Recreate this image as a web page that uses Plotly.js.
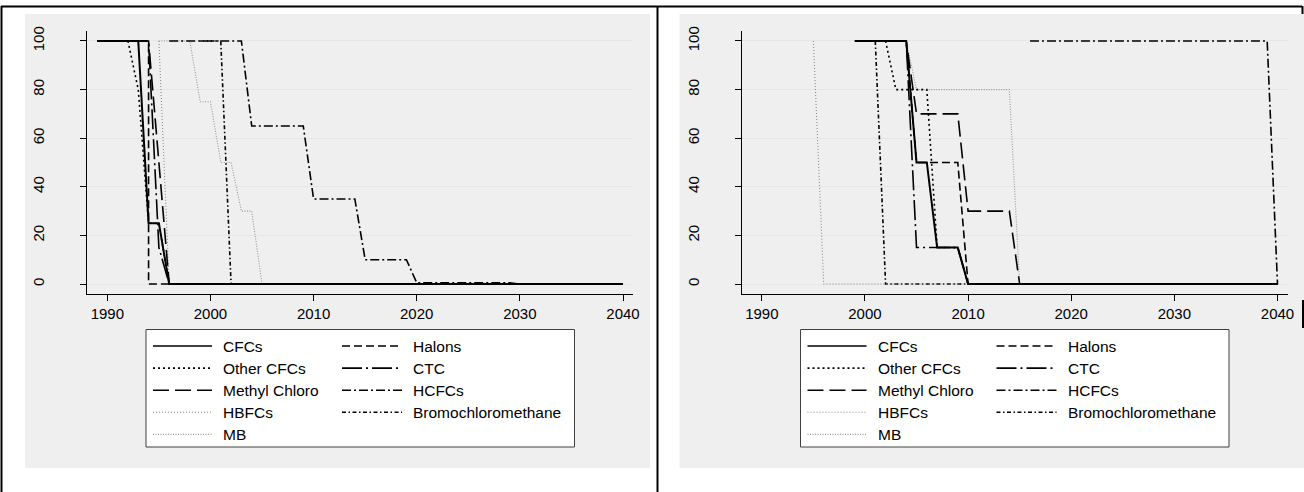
<!DOCTYPE html>
<html><head><meta charset="utf-8">
<script src="https://cdn.plot.ly/plotly-3.0.1.min.js"></script>
<style>html,body{margin:0;padding:0;background:#fff}#chart{width:1304px;height:492px}</style>
</head><body><div id="chart"></div>
<script>
// ---------- DATA ----------
const seriesNames = ["CFCs","Halons","Other CFCs","CTC","Methyl Chloro","HCFCs","HBFCs","Bromochloromethane","MB"];
const xTickVals = [1990,2000,2010,2020,2030,2040];
const xTickText = ["1990","2000","2010","2020","2030","2040"];
const yTickVals = [0,20,40,60,80,100];
const yTickText = ["0","20","40","60","80","100"];

// Left panel
const L_CFCs_x = [1989,1993,1994,1995,1996,2040];
const L_CFCs_y = [100,100,25,25,0,0];
const L_Halons_x = [1992,1994,1994,2040];
const L_Halons_y = [100,100,0,0];
const L_OtherCFCs_x = [1992,1993,1994,1995,1996,2040];
const L_OtherCFCs_y = [100,80,25,25,0,0];
const L_CTC_x = [1989,1994,1995,1996,2040];
const L_CTC_y = [100,100,15,0,0];
const L_MethylChloro_x = [1993,1994,1995,1996,2040];
const L_MethylChloro_y = [100,100,50,0,0];
const L_HCFCs_x = [1996,2003,2004,2009,2010,2014,2015,2019,2020,2029,2030,2040];
const L_HCFCs_y = [100,100,65,65,35,35,10,10,0.5,0.5,0,0];
const L_HBFCs_x = [1995,1996,2040];
const L_HBFCs_y = [100,0,0];
const L_BCM_x = [1999,2001,2002,2040];
const L_BCM_y = [100,100,0,0];
const L_MB_x = [1995,1998,1999,2000,2001,2002,2003,2004,2005,2040];
const L_MB_y = [100,100,75,75,50,50,30,30,0,0];

// Right panel
const R_CFCs_x = [1999,2004,2005,2006,2007,2009,2010,2040];
const R_CFCs_y = [100,100,50,50,15,15,0,0];
const R_Halons_x = [2002,2004,2005,2009,2010,2040];
const R_Halons_y = [100,100,50,50,0,0];
const R_OtherCFCs_x = [2002,2003,2006,2007,2009,2010,2040];
const R_OtherCFCs_y = [100,80,80,15,15,0,0];
const R_CTC_x = [2002,2004,2005,2009,2010,2040];
const R_CTC_y = [100,100,15,15,0,0];
const R_MethylChloro_x = [2003,2004,2005,2009,2010,2014,2015,2040];
const R_MethylChloro_y = [100,100,70,70,30,30,0,0];
const R_HCFCs_x = [2016,2039,2040];
const R_HCFCs_y = [100,100,0];
const R_HBFCs_x = [1995,1996,2040];
const R_HBFCs_y = [100,0,0];
const R_BCM_x = [2001,2002,2040];
const R_BCM_y = [100,0,0];
const R_MB_x = [2002,2004,2005,2014,2015,2040];
const R_MB_y = [100,100,80,80,0,0];

// ---------- STYLE ----------
const W = 1304, H = 492;
const FONT = "Liberation Sans, Arial, Helvetica, sans-serif";
const lineStyles = [
  {color:"#000", width:2.0, dash:"solid"},
  {color:"#000", width:1.6, dash:"8px,4px"},
  {color:"#000", width:1.6, dash:"2px,3px"},
  {color:"#000", width:1.6, dash:"20px,4px,2px,4px"},
  {color:"#000", width:1.6, dash:"16px,6px"},
  {color:"#000", width:1.6, dash:"9px,3px,2px,3px"},
  {color:"#8a8a8a", width:1.1, dash:"1px,2px"},
  {color:"#000", width:1.6, dash:"4px,2.5px,1.5px,2.5px"},
  {color:"#999", width:1.1, dash:"1px,1.5px"}
];

const leftData = [
  [L_CFCs_x,L_CFCs_y],[L_Halons_x,L_Halons_y],[L_OtherCFCs_x,L_OtherCFCs_y],[L_CTC_x,L_CTC_y],
  [L_MethylChloro_x,L_MethylChloro_y],[L_HCFCs_x,L_HCFCs_y],[L_HBFCs_x,L_HBFCs_y],[L_BCM_x,L_BCM_y],[L_MB_x,L_MB_y]
];
const rightData = [
  [R_CFCs_x,R_CFCs_y],[R_Halons_x,R_Halons_y],[R_OtherCFCs_x,R_OtherCFCs_y],[R_CTC_x,R_CTC_y],
  [R_MethylChloro_x,R_MethylChloro_y],[R_HCFCs_x,R_HCFCs_y],[R_HBFCs_x,R_HBFCs_y],[R_BCM_x,R_BCM_y],[R_MB_x,R_MB_y]
];

const traces = [];
function addTraces(data, xa, ya) {
  for (let i = data.length - 1; i >= 0; i--) {
    const s = lineStyles[i];
    traces.push({type:"scatter", mode:"lines", x:data[i][0], y:data[i][1], name:seriesNames[i],
      xaxis:xa, yaxis:ya, showlegend:false, hoverinfo:"skip",
      line:{color:s.color, width:s.width, dash:s.dash}});
  }
}
addTraces(leftData, "x", "y");
addTraces(rightData, "x2", "y2");

const px = v => v / W;
const py = v => 1 - v / H;

const PANEL_DX = 654.5;
const xRange = [1988.03, 2040.97];
const yRange = [-4.11, 104.11];

function xAxis(x0, anchor) {
  return {domain:[px(x0), px(x0 + 546)], range:xRange, anchor:anchor,
    tickmode:"array", tickvals:xTickVals, ticktext:xTickText,
    ticks:"outside", ticklen:6, tickwidth:1, tickcolor:"#000",
    showline:true, linecolor:"#000", linewidth:1, showgrid:false, zeroline:false,
    tickfont:{family:FONT, size:15, color:"#000"}, fixedrange:true};
}
function yAxis(anchor) {
  return {domain:[py(294), py(31)], range:yRange, anchor:anchor,
    tickmode:"array", tickvals:yTickVals, ticktext:yTickText, tickangle:-90,
    ticks:"outside", ticklen:6, tickwidth:1, tickcolor:"#000",
    showline:true, linecolor:"#000", linewidth:1,
    showgrid:true, gridcolor:"#e6e6e6", gridwidth:1, zeroline:false,
    ticklabelstandoff:30,
    tickfont:{family:FONT, size:15, color:"#000"}, fixedrange:true};
}

const shapes = [];
const annotations = [];
[0, PANEL_DX].forEach(dx => {
  shapes.push({type:"rect", xref:"paper", yref:"paper", layer:"below",
    x0:px(25+dx), x1:px(Math.min(650+dx, W+2)), y0:py(468), y1:py(14),
    fillcolor:"#efefef", line:{width:0}});
});
const frame = {color:"#000", width:2};
shapes.push({type:"line", xref:"paper", yref:"paper", x0:px(1), x1:px(1302), y0:py(6.5), y1:py(6.5), line:frame});
shapes.push({type:"line", xref:"paper", yref:"paper", x0:px(1.5), x1:px(1.5), y0:py(6), y1:py(H+2), line:frame});
shapes.push({type:"line", xref:"paper", yref:"paper", x0:px(657.5), x1:px(657.5), y0:py(6), y1:py(H+2), line:frame});
shapes.push({type:"line", xref:"paper", yref:"paper", x0:px(1302.5), x1:px(1302.5), y0:py(6), y1:py(14), line:frame});
shapes.push({type:"line", xref:"paper", yref:"paper", x0:px(1303), x1:px(1303), y0:py(300), y1:py(328), line:frame});

const colSample = [[153,212],[342,402]];
const colText = [221,411];
[0, PANEL_DX].forEach(dx => {
  shapes.push({type:"rect", xref:"paper", yref:"paper", layer:"above",
    x0:px(146+dx), x1:px(574.5+dx), y0:py(447), y1:py(329.5),
    fillcolor:"#fff", line:{color:"#404040", width:1}});
  seriesNames.forEach((name, i) => {
    const col = i % 2, row = Math.floor(i / 2);
    const yy = 346 + row * 22.1;
    const s = lineStyles[i];
    shapes.push({type:"line", xref:"paper", yref:"paper", layer:"above",
      x0:px(colSample[col][0]+dx), x1:px(colSample[col][1]+dx), y0:py(yy), y1:py(yy),
      line:{color:s.color, width:Math.min(s.width,1.6), dash:s.dash}});
    annotations.push({xref:"paper", yref:"paper", x:px(colText[col]+dx), y:py(yy),
      xanchor:"left", yanchor:"middle", showarrow:false, text:name,
      font:{family:FONT, size:15.5, color:"#000"}});
  });
});

const layout = {
  width:W, height:H, margin:{l:0,r:0,t:0,b:0},
  paper_bgcolor:"#fff", plot_bgcolor:"#fff",
  showlegend:false,
  xaxis:xAxis(87, "y"), yaxis:yAxis("x"),
  xaxis2:xAxis(87+PANEL_DX, "y2"), yaxis2:yAxis("x2"),
  shapes:shapes, annotations:annotations
};

Plotly.newPlot("chart", traces, layout, {staticPlot:true, displayModeBar:false});
</script>
</body></html>
